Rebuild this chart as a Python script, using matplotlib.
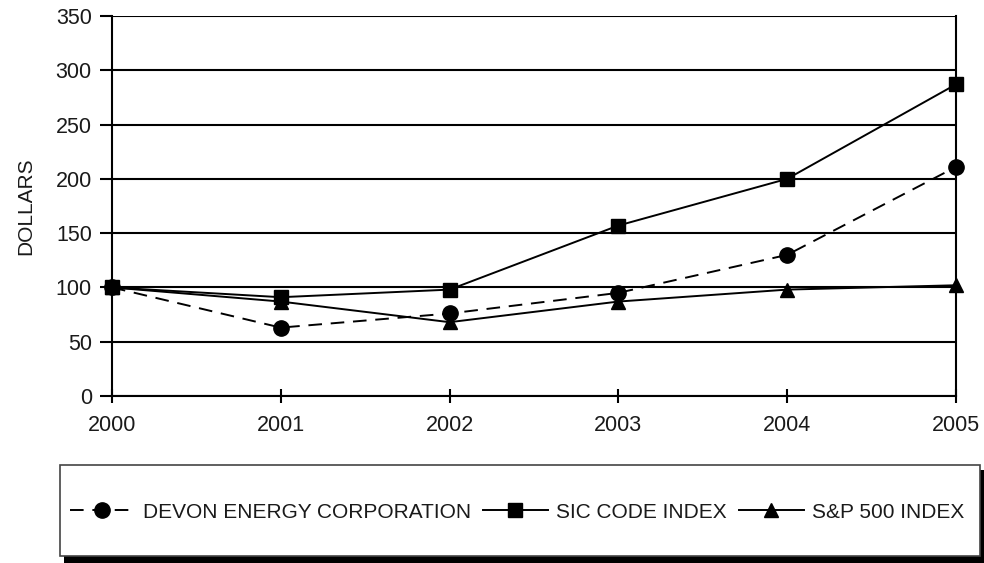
import matplotlib.pyplot as plt
from matplotlib.patches import Rectangle

plt.rcParams['font.family'] = ['Liberation Sans', 'DejaVu Sans']

years = [2000, 2001, 2002, 2003, 2004, 2005]
devon = [100, 63, 76, 95, 130, 211]
sic = [100, 91, 98, 157, 200, 287]
sp500 = [100, 87, 68, 87, 98, 102]

labels = ["DEVON ENERGY CORPORATION", "SIC CODE INDEX", "S&P 500 INDEX"]

fig = plt.figure(figsize=(9.84, 5.63), dpi=100)
ax = fig.add_axes([0.1138, 0.2966, 0.8577, 0.675])

# --- series ---
ax.plot(years, devon, color="black", lw=1.4, dashes=(7, 4.5),
        marker="o", markersize=11, clip_on=False, zorder=4, label=labels[0])
ax.plot(years, sic, color="black", lw=1.4,
        marker="s", markersize=10, clip_on=False, zorder=4, label=labels[1])
ax.plot(years, sp500, color="black", lw=1.4,
        marker="^", markersize=10.5, clip_on=False, zorder=4, label=labels[2])

# --- axes ---
ax.set_xlim(2000, 2005)
ax.set_ylim(0, 350)
ax.set_xticks(years)
ax.set_yticks(range(0, 351, 50))
ax.yaxis.grid(True, color="black", lw=1.5)
ax.set_axisbelow(True)
for s in ["left", "right", "bottom"]:
    ax.spines[s].set_linewidth(1.5)
ax.spines["top"].set_visible(False)
ax.tick_params(axis="y", direction="out", length=8.5, width=1.5, pad=6,
               labelsize=15.5, colors="black", labelcolor="#1a1a1a")
ax.tick_params(axis="x", direction="inout", length=10, width=1.5, pad=9,
               labelsize=15.5, colors="black", labelcolor="#1a1a1a")
ax.set_ylabel("DOLLARS", fontsize=15, labelpad=15, color="#1a1a1a")

# --- legend box with hard shadow ---
fig.patches.append(Rectangle((64 / 984, 0), 920 / 984, 93 / 563,
                             transform=fig.transFigure, facecolor="black",
                             edgecolor="none", zorder=1))
fig.patches.append(Rectangle((60 / 984, 7 / 563), 920 / 984, 91 / 563,
                             transform=fig.transFigure, facecolor="white",
                             edgecolor="#444444", lw=1.2, zorder=2))

leg = fig.legend(loc="center", bbox_to_anchor=(517 / 984, 51 / 563), ncol=3,
                 frameon=False, handlelength=3.1,
                 handletextpad=0.4, columnspacing=0.6,
                 prop={"size": 15})
for t in leg.get_texts():
    t.set_color("#1a1a1a")
leg.set_zorder(3)

fig.savefig("out.png", dpi=100)
